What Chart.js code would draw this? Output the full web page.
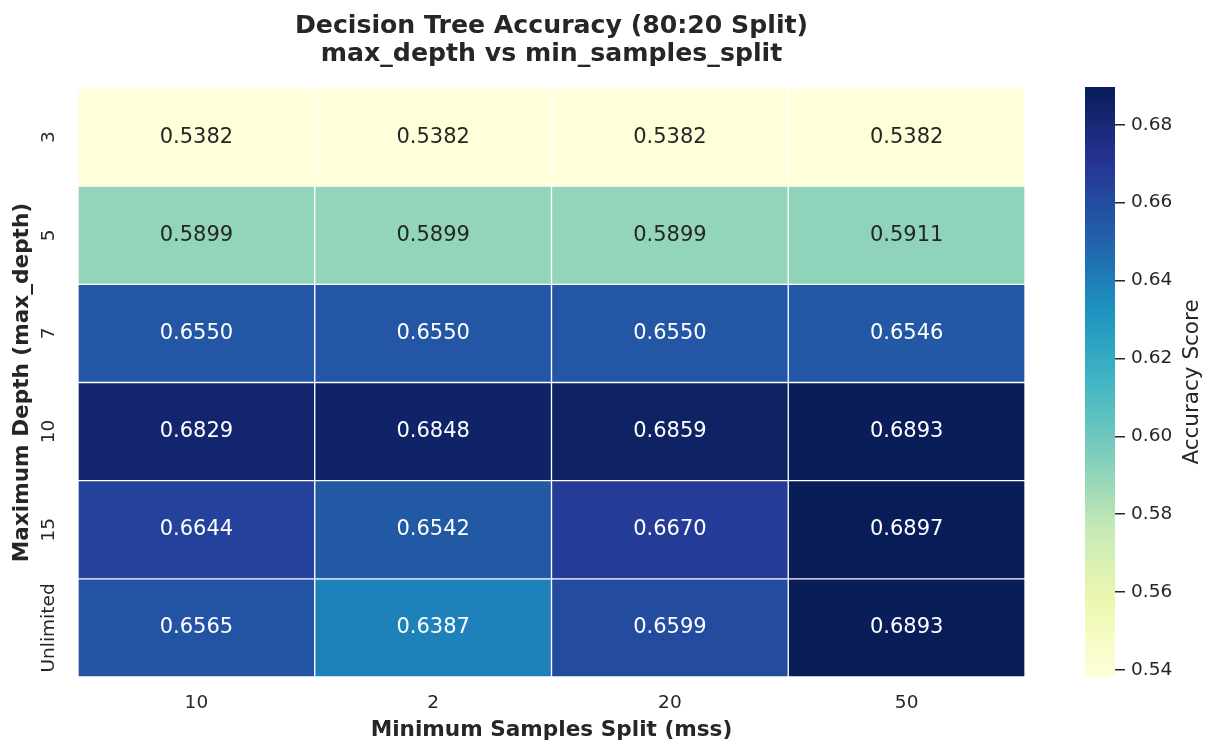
<!DOCTYPE html>
<html lang="en">
<head>
<meta charset="UTF-8">
<title>Decision Tree Accuracy Heatmap</title>
<style>
  html, body { margin: 0; padding: 0; background: #fff; }
  #wrap { position: relative; width: 1216px; height: 754px; }
  #heatmap { position: absolute; left: 0; top: 0; }
  #colorbar { position: absolute; left: 1060px; top: 0; }
</style>
</head>
<body>
<div id="wrap">
  <canvas id="heatmap" width="1216" height="754"></canvas>
  <canvas id="colorbar" width="156" height="754"></canvas>
</div>

<script src="https://cdn.jsdelivr.net/npm/chart.js@4.4.1/dist/chart.umd.min.js"></script>
<script>
  // columns = min_samples_split, rows = max_depth
  var colLabels = ['10', '2', '20', '50'];
  var rowLabels = ['3', '5', '7', '10', '15', 'Unlimited'];

  var accDepth3 = [0.5382, 0.5382, 0.5382, 0.5382];
  var accDepth5 = [0.5899, 0.5899, 0.5899, 0.5911];
  var accDepth7 = [0.6550, 0.6550, 0.6550, 0.6546];
  var accDepth10 = [0.6829, 0.6848, 0.6859, 0.6893];
  var accDepth15 = [0.6644, 0.6542, 0.6670, 0.6897];
  var accDepthUnl = [0.6565, 0.6387, 0.6599, 0.6893];

  var colorbarTicks = [0.54, 0.56, 0.58, 0.60, 0.62, 0.64, 0.66, 0.68];

  var titleLines = ['Decision Tree Accuracy (80:20 Split)', 'max_depth vs min_samples_split'];

  var rows = [accDepth3, accDepth5, accDepth7, accDepth10, accDepth15, accDepthUnl];
  var allVals = [].concat.apply([], rows);
  var vmin = Math.min.apply(null, allVals);
  var vmax = Math.max.apply(null, allVals);

  // YlGnBu
  var cmap = [
    [255, 255, 217], [237, 248, 177], [199, 233, 180], [127, 205, 187], [65, 182, 196],
    [29, 145, 192], [34, 94, 168], [37, 52, 148], [8, 29, 88]
  ];

  function cmapRgb(t) {
    t = Math.max(0, Math.min(1, t));
    var pos = t * (cmap.length - 1);
    var i = Math.min(Math.floor(pos), cmap.length - 2);
    var f = pos - i;
    var a = cmap[i], b = cmap[i + 1];
    return [0, 1, 2].map(function (k) { return Math.round(a[k] + (b[k] - a[k]) * f); });
  }

  function cellColor(v) {
    var c = cmapRgb((v - vmin) / (vmax - vmin));
    return 'rgb(' + c.join(',') + ')';
  }

  // same rule seaborn uses to pick the annotation colour
  function textColor(v) {
    var c = cmapRgb((v - vmin) / (vmax - vmin)).map(function (x) {
      x = x / 255;
      return x <= 0.03928 ? x / 12.92 : Math.pow((x + 0.055) / 1.055, 2.4);
    });
    var lum = 0.2126 * c[0] + 0.7152 * c[1] + 0.0722 * c[2];
    return lum > 0.408 ? '#262626' : '#ffffff';
  }

  Chart.defaults.font.family = "'DejaVu Sans', sans-serif";
  Chart.defaults.color = '#262626';

  var cellLabels = {
    id: 'cellLabels',
    afterDatasetsDraw: function (chart) {
      var ctx = chart.ctx;
      ctx.save();
      ctx.font = "21px 'DejaVu Sans'";
      ctx.textAlign = 'center';
      ctx.textBaseline = 'middle';
      chart.data.datasets.forEach(function (ds, i) {
        chart.getDatasetMeta(i).data.forEach(function (bar, j) {
          var v = rows[i][j];
          ctx.fillStyle = textColor(v);
          ctx.fillText(v.toFixed(4), bar.x, (bar.y + bar.base) / 2);
        });
      });
      ctx.restore();
    }
  };

  // rotated row labels on the y axis + title centred over the cells
  var rowTicks = {
    id: 'rowTicks',
    afterDraw: function (chart) {
      var ctx = chart.ctx;
      var yScale = chart.scales.y;
      var area = chart.chartArea;
      ctx.save();
      ctx.font = "18.5px 'DejaVu Sans'";
      ctx.fillStyle = '#262626';
      ctx.textAlign = 'center';
      ctx.textBaseline = 'middle';
      rowLabels.forEach(function (lab, i) {
        var y = yScale.getPixelForValue(i + 0.5);
        ctx.save();
        ctx.translate(49, y);
        ctx.rotate(-Math.PI / 2);
        ctx.fillText(lab, 0, 0);
        ctx.restore();
      });

      ctx.font = "bold 25.2px 'DejaVu Sans'";
      ctx.textBaseline = 'alphabetic';
      var cx = (area.left + area.right) / 2;
      ctx.fillText(titleLines[0], cx, 32.5);
      ctx.fillText(titleLines[1], cx, 60.5);
      ctx.restore();
    }
  };

  var heatmap = new Chart(document.getElementById('heatmap'), {
    type: 'bar',
    data: {
      labels: colLabels,
      datasets: rows.map(function (vals, i) {
        return {
          label: rowLabels[i],
          data: vals.map(function () { return [i, i + 1]; }),
          backgroundColor: vals.map(cellColor),
          borderColor: '#ffffff',
          borderWidth: 1,
          borderSkipped: false,
          grouped: false,
          barPercentage: 1,
          categoryPercentage: 1
        };
      })
    },
    options: {
      responsive: false,
      animation: false,
      layout: { padding: { left: 0, right: 191, top: 88, bottom: 0 } },
      plugins: {
        legend: { display: false },
        tooltip: { enabled: false },
        title: { display: false }
      },
      scales: {
        x: {
          type: 'category',
          grid: { display: false, drawTicks: false },
          border: { display: false },
          ticks: { font: { size: 18.5 }, color: '#262626', padding: 15 },
          title: {
            display: true,
            text: 'Minimum Samples Split (mss)',
            font: { size: 21.6, weight: 'bold' },
            color: '#262626',
            padding: { top: 0, bottom: 11 }
          },
          afterFit: function (scale) { scale.height = 77; }
        },
        y: {
          type: 'linear',
          min: 0,
          max: 6,
          reverse: true,
          grid: { display: false, drawTicks: false },
          border: { display: false },
          ticks: { display: false },
          title: {
            display: true,
            text: 'Maximum Depth (max_depth)',
            font: { size: 21.6, weight: 'bold' },
            color: '#262626',
            padding: { top: 9, bottom: 0 }
          },
          afterFit: function (scale) { scale.width = 78; }
        }
      }
    },
    plugins: [cellLabels, rowTicks]
  });

  var colorbarLabel = {
    id: 'colorbarLabel',
    afterDraw: function (chart) {
      var ctx = chart.ctx;
      var area = chart.chartArea;
      ctx.save();
      ctx.font = "21.5px 'DejaVu Sans'";
      ctx.fillStyle = '#262626';
      ctx.textAlign = 'center';
      ctx.textBaseline = 'middle';
      ctx.translate(132, (area.top + area.bottom) / 2);
      ctx.rotate(-Math.PI / 2);
      ctx.fillText('Accuracy Score', 0, 0);
      ctx.restore();
    }
  };

  var colorbar = new Chart(document.getElementById('colorbar'), {
    type: 'bar',
    data: {
      labels: ['Accuracy Score'],
      datasets: [{
        data: [[vmin, vmax]],
        backgroundColor: function (c) {
          var area = c.chart.chartArea;
          if (!area) return null;
          var g = c.chart.ctx.createLinearGradient(0, area.bottom, 0, area.top);
          cmap.forEach(function (rgb, i) {
            g.addColorStop(i / (cmap.length - 1), 'rgb(' + rgb.join(',') + ')');
          });
          return g;
        },
        borderWidth: 0,
        barPercentage: 1,
        categoryPercentage: 1
      }]
    },
    options: {
      responsive: false,
      animation: false,
      layout: { padding: { left: 25, right: 0, top: 87, bottom: 77 } },
      plugins: { legend: { display: false }, tooltip: { enabled: false } },
      scales: {
        x: { display: false },
        y: {
          position: 'right',
          min: vmin,
          max: vmax,
          afterBuildTicks: function (scale) {
            scale.ticks = colorbarTicks.map(function (v) { return { value: v }; });
          },
          grid: { drawOnChartArea: false, drawTicks: true, tickLength: 10, color: '#262626', lineWidth: 1.5 },
          border: { display: false },
          ticks: {
            padding: 6,
            font: { size: 18.5 },
            color: '#262626',
            callback: function (v) { return v.toFixed(2); }
          },
          afterFit: function (scale) { scale.width = 101; }
        }
      }
    },
    plugins: [colorbarLabel]
  });
</script>
</body>
</html>
